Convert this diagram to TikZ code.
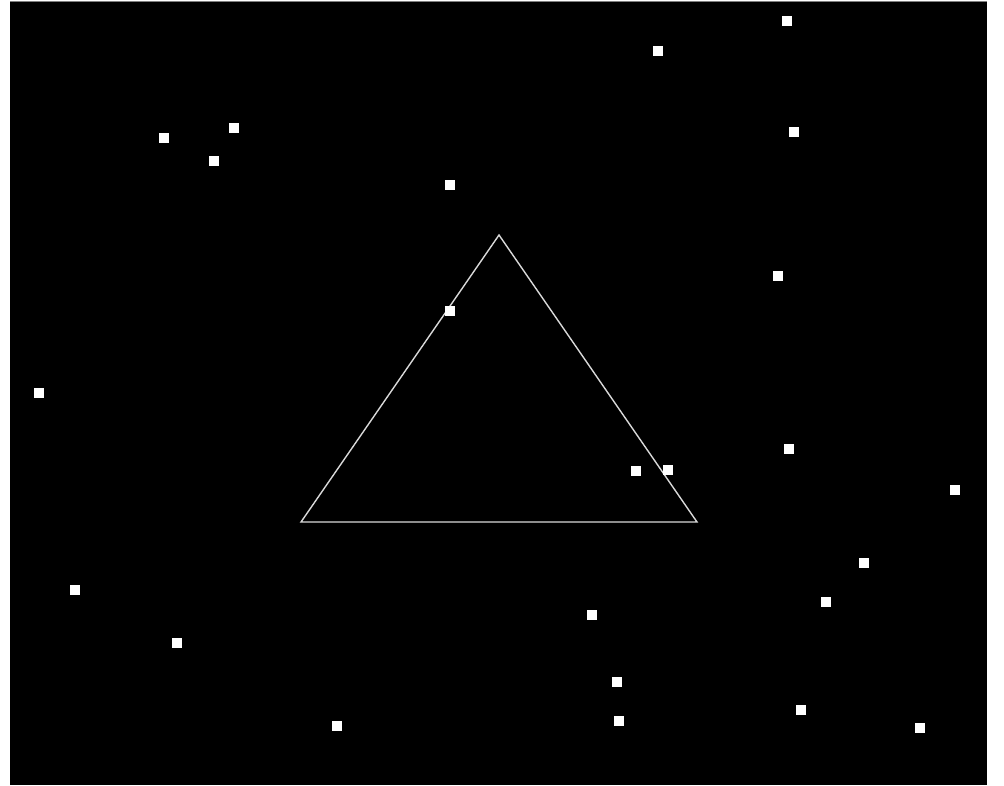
\documentclass[tikz,border=0pt]{standalone}
\begin{document}
\begin{tikzpicture}[x=1pt,y=-1pt,
  dot/.style={fill=white,draw=none,minimum size=9.5pt,inner sep=0pt,outer sep=0pt,rectangle},
  tri/.style={draw=white!85!black,line width=1.4pt}]
\useasboundingbox (0,0) rectangle (1004,785);
\fill[white] (0,0) rectangle (1004,785);
\fill[black] (10,1) rectangle (987,785);
\draw[gray,line width=1.2pt] (10,1.6) -- (987,1.6);
\coordinate (A) at (499,235);
\coordinate (B) at (301,522);
\coordinate (C) at (697,522);
\draw[tri,line join=miter] (A) -- (B) -- (C) -- cycle;
\foreach \i/\x/\y in {1/787/21,2/658/51,3/164/138,4/234/128,5/214/161,6/794/132,7/450/185,8/778/276,9/450/311,10/39/393,11/789/449,12/636/471,13/668/470,14/955/490,15/864/563,16/75/590,17/826/602,18/592/615,19/177/643,20/617/682,21/801/710,22/619/721,23/337/726,24/920/728}
  \node[dot] (d\i) at (\x,\y) {};
\end{tikzpicture}
\end{document}
